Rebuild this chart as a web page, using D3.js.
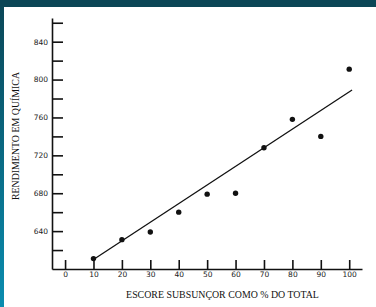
<!DOCTYPE html>
<html>
<head>
<meta charset="utf-8">
<script src="https://cdn.jsdelivr.net/npm/d3@7"></script>
<style>
  html, body { margin: 0; padding: 0; background: #fff; }
  svg { display: block; }
  .axis path, .axis line { stroke: #111; stroke-width: 1.6; }
  .axis text { font-family: "DejaVu Sans", sans-serif; font-size: 7.5px; fill: #1a1a1a; }
  .title { font-family: "Liberation Serif", serif; font-size: 9.9px; fill: #111; }
</style>
</head>
<body>
<script>
// dados
var escore = [10, 20, 30, 40, 50, 60, 70, 80, 90, 100];
var rendimento = [611, 631, 639, 660, 679, 680, 728, 758, 740, 811];
// reta traçada à mão (extremos)
var retaX = [10, 101];
var retaY = [610, 789];
// marcações dos eixos
var xTicks = [0, 10, 20, 30, 40, 50, 60, 70, 80, 90, 100];
var yTicks = [620, 640, 660, 680, 700, 720, 740, 760, 780, 800, 820, 840, 860];
var yLabels = [640, 680, 720, 760, 800, 840];

var W = 376, H = 307;

var svg = d3.select("body").append("svg")
    .attr("width", W)
    .attr("height", H);

// moldura azul (faixa superior e esquerda)
var grad = svg.append("defs").append("linearGradient")
    .attr("id", "borda")
    .attr("x1", 0).attr("y1", 0).attr("x2", 0).attr("y2", 1);
grad.append("stop").attr("offset", "0%").attr("stop-color", "#0b4656");
grad.append("stop").attr("offset", "100%").attr("stop-color", "#0a8db0");

svg.append("rect").attr("x", 0).attr("y", 0).attr("width", 4).attr("height", H).attr("fill", "url(#borda)");
svg.append("rect").attr("x", 0).attr("y", 0).attr("width", W).attr("height", 7).attr("fill", "#0b4656");

// escalas
var x = d3.scaleLinear().domain([-4.6, 104.5]).range([52, 362]);
var y = d3.scaleLinear().domain([600, 865]).range([269, 18]);

// eixo X (marcas para cima)
var xAxis = d3.axisBottom(x)
    .tickValues(xTicks)
    .tickSizeInner(-9)
    .tickSizeOuter(0)
    .tickPadding(3);

svg.append("g")
    .attr("class", "axis")
    .attr("transform", "translate(0," + y(600) + ")")
    .call(xAxis);

// eixo Y (marcas para a direita)
var yAxis = d3.axisLeft(y)
    .tickValues(yTicks)
    .tickSizeInner(-11)
    .tickSizeOuter(0)
    .tickPadding(4)
    .tickFormat(function(d) { return yLabels.indexOf(d) >= 0 ? d : ""; });

svg.append("g")
    .attr("class", "axis")
    .attr("transform", "translate(" + x(-4.6) + ",0)")
    .call(yAxis);

// reta
svg.append("line")
    .attr("x1", x(retaX[0])).attr("y1", y(retaY[0]))
    .attr("x2", x(retaX[1])).attr("y2", y(retaY[1]))
    .attr("stroke", "#111")
    .attr("stroke-width", 1.3);

// pontos
svg.selectAll(".ponto")
    .data(escore)
    .enter()
    .append("circle")
    .attr("class", "ponto")
    .attr("cx", function(d) { return x(d); })
    .attr("cy", function(d, i) { return y(rendimento[i]); })
    .attr("r", 2.7)
    .attr("fill", "#111");

// títulos
svg.append("text")
    .attr("class", "title")
    .attr("x", 222.5)
    .attr("y", 297.5)
    .attr("text-anchor", "middle")
    .text("ESCORE SUBSUNÇOR COMO % DO TOTAL");

svg.append("text")
    .attr("class", "title")
    .attr("transform", "translate(18.5,136) rotate(-90)")
    .attr("text-anchor", "middle")
    .text("RENDIMENTO EM QUÍMICA");
</script>
</body>
</html>
